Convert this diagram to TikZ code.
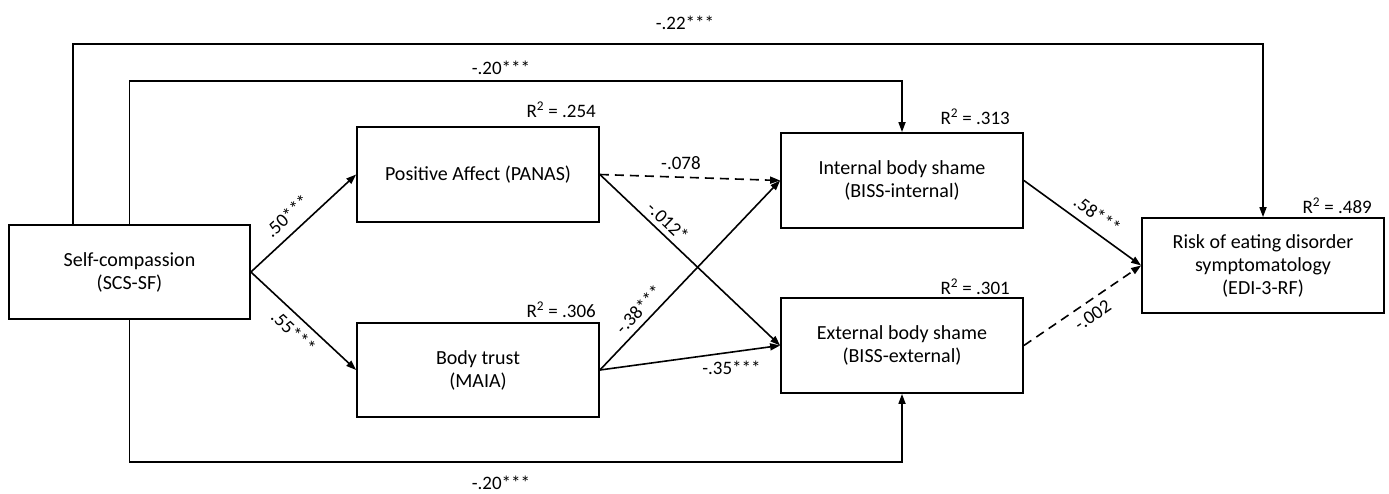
\documentclass[tikz,border=0pt]{standalone}
\usepackage{fontspec}
\setmainfont{Carlito}
\usetikzlibrary{arrows.meta,calc}
\begin{document}
\begin{tikzpicture}[x=1pt,y=-1pt,
  box/.style={draw, line width=1.8pt, minimum width=242pt, minimum height=95pt, align=center, inner sep=0pt, font=\fontsize{20}{23}\selectfont},
  lbl/.style={font=\fontsize{19}{22}\selectfont, inner sep=1pt},
  conn/.style={line width=1.6pt, -{Triangle[length=10pt,width=7pt]}},
  dashedconn/.style={conn, dash pattern=on 9pt off 6pt}]
\useasboundingbox (0,0) rectangle (1389,493);

\node[box, minimum width=241pt, minimum height=94pt] (S) at (129.5,272) {Self-compassion\\(SCS-SF)};
\node[box] (P) at (478,174.5) {Positive Affect (PANAS)};
\node[box, minimum height=94pt] (B) at (478,370) {Body trust\\(MAIA)};
\node[box] (I) at (902,180.5) {Internal body shame\\(BISS-internal)};
\node[box] (E) at (902,345.5) {External body shame\\(BISS-external)};
\node[box] (R) at (1263,265.5) {Risk of eating disorder\\symptomatology\\(EDI-3-RF)};

\node[lbl, anchor=base east] (rP) at (597,117) {R\textsuperscript{2} = .254};
\node[lbl, anchor=base east] (rI) at (1011,124) {R\textsuperscript{2} = .313};
\node[lbl, anchor=base east] (rR) at (1373,213) {R\textsuperscript{2} = .489};
\node[lbl, anchor=base east] (rB) at (597,317) {R\textsuperscript{2} = .306};
\node[lbl, anchor=base east] (rE) at (1011,294) {R\textsuperscript{2} = .301};

\draw[conn] (S.east) -- (P.west) node[lbl, pos=0.45, sloped, above=8pt] (l1) {.50***};
\draw[conn] (S.east) -- (B.west) node[lbl, midway, sloped, below=6pt] (l2) {.55***};
\draw[dashedconn] (P.east) -- (I.west) node[lbl, pos=0.45, above=6pt] (l3) {-.078};
\draw[conn] (P.east) -- (E.west) node[lbl, pos=0.33, sloped, above=4pt] (l4) {-.012*};
\draw[conn] (B.east) -- (I.west) node[lbl, pos=0.27, sloped, above=5pt] (l5) {-.38***};
\draw[conn] (B.east) -- (E.west) node[lbl, pos=0.73, below=7pt] (l6) {-.35***};
\draw[conn] (I.east) -- (R.west) node[lbl, pos=0.55, sloped, above=7pt] (l7) {.58***};
\draw[dashedconn] (E.east) -- (R.west) node[lbl, pos=0.52, sloped, below=6pt] (l8) {-.002};

\coordinate (ox) at (73,44);
\coordinate (ix) at (130,81);
\coordinate (bx) at (130,462);
\draw[conn] (S.north -| ox) |- (R.north |- ox) -- (R.north);
\draw[conn] (S.north) |- (I.north |- ix) -- (I.north);
\draw[conn] (S.south) |- (E.south |- bx) -- (E.south);

\node[lbl] (l22) at (685,23) {-.22***};
\node[lbl] (l20a) at (501,68) {-.20***};
\node[lbl] (l20b) at (501,483) {-.20***};
\end{tikzpicture}
\end{document}
